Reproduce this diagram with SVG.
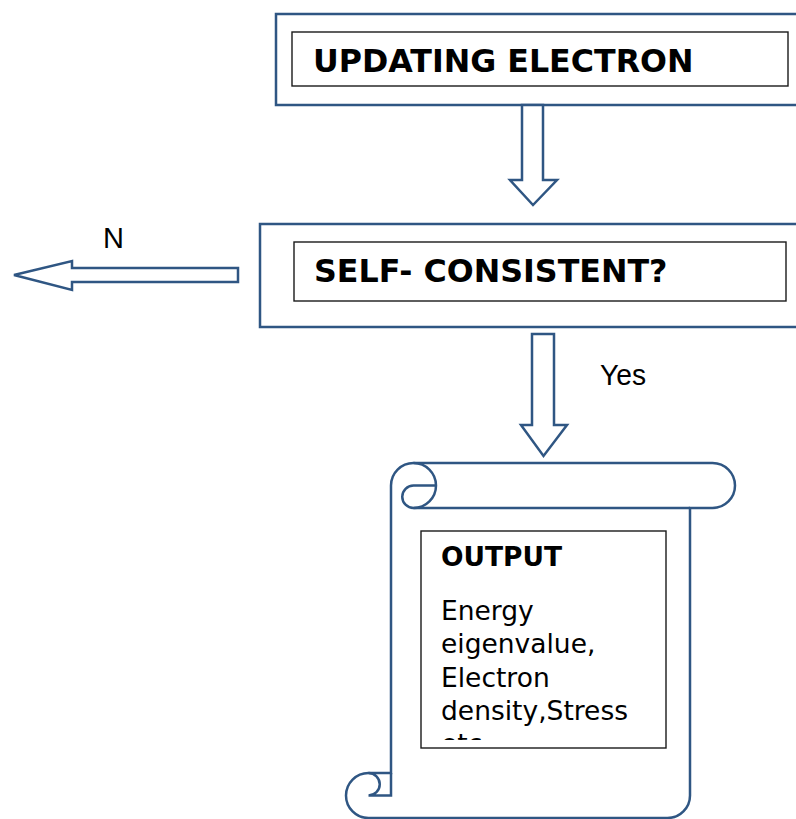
<svg xmlns="http://www.w3.org/2000/svg" width="796" height="819" viewBox="0 0 796 819">
<style>
.blue{fill:#ffffff;stroke:#2F5683;stroke-width:2.5;stroke-linejoin:miter}
.blueline{fill:none;stroke:#2F5683;stroke-width:2.5}
.inner{fill:#ffffff;stroke:#1a1a1a;stroke-width:1.4}
.bold{font-family:"DejaVu Sans",sans-serif;font-weight:bold;fill:#000}
.reg{font-family:"DejaVu Sans",sans-serif;fill:#000}
.lbl{font-family:"Liberation Sans",Arial,sans-serif;fill:#000}
</style>
<defs>
<clipPath id="clipOut"><rect x="421" y="531" width="245" height="209"/></clipPath>
</defs>
<rect width="796" height="819" fill="#ffffff"/>
<g id="node-updating">
<rect class="blue" x="276" y="14" width="540" height="91"/>
<rect class="inner" x="292" y="32" width="496" height="54"/>
<text class="bold" x="313" y="72" font-size="31.7">UPDATING ELECTRON</text>
</g>
<g id="node-selfconsistent">
<rect class="blue" x="260" y="224" width="560" height="103"/>
<rect class="inner" x="294" y="242" width="492" height="59"/>
<text class="bold" x="314" y="282" font-size="31.7">SELF- CONSISTENT?</text>
</g>
<g id="node-output">
<path class="blue" d="M391 485.5 A22.5 22.5 0 0 1 413.5 463 L712.5 463 A22.5 22.5 0 0 1 712.5 508 L690 508 L690 795.5 A22.5 22.5 0 0 1 667.5 818 L368.5 818 A22.5 22.5 0 0 1 368.5 773 L391 773 Z"/>
<path class="blueline" d="M413.5 463 A22.5 22.5 0 0 1 413.5 508 A11.25 11.25 0 0 1 413.5 485.5 L436 485.5"/>
<path class="blueline" d="M413.5 508 L690 508"/>
<path class="blueline" d="M368.5 773 A11.25 11.25 0 0 1 368.5 795.5 L391 795.5 L391 773"/>
<rect class="inner" x="421" y="531" width="245" height="217"/>
<text class="bold" x="441" y="566" font-size="26.5">OUTPUT</text>
<g clip-path="url(#clipOut)">
<text class="reg" font-size="26.5">
<tspan x="441" y="620">Energy</tspan>
<tspan x="441" y="653.3">eigenvalue,</tspan>
<tspan x="441" y="686.7">Electron</tspan>
<tspan x="441" y="720">density,Stress</tspan>
<tspan x="441" y="753.3">etc</tspan>
</text>
</g>
</g>
<g id="connectors">
<polygon class="blue" points="522,105 543,105 543,180 557,180 533,205 510,180 522,180"/>
<polygon class="blue" points="532,334 554,334 554,425 567,425 543.5,456 521,425 532,425"/>
<polygon class="blue" points="238,268 72,268 72,261 14,275 72,290 72,282 238,282"/>
<text class="lbl" x="103" y="248" font-size="29">N</text>
<text class="lbl" x="600" y="385" font-size="30" textLength="46" lengthAdjust="spacingAndGlyphs">Yes</text>
</g>
</svg>
